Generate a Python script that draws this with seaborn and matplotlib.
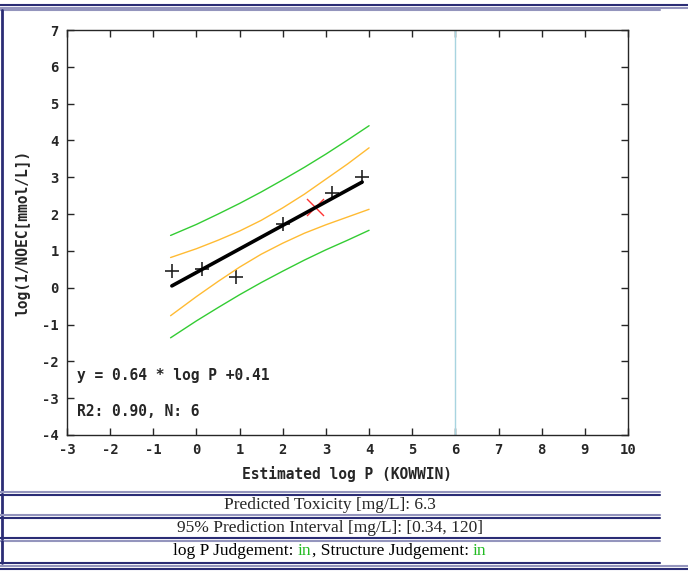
import numpy as np
import pandas as pd
import matplotlib.pyplot as plt
from matplotlib.lines import Line2D
import seaborn as sns

# datos
logp = [-0.56, 0.12, 0.91, 2.01, 3.13, 3.84]
noec = [0.45, 0.52, 0.30, 1.72, 2.56, 3.01]
pred_x = [2.75]
pred_y = [2.20]

fit_x = [-0.57, 3.84]
fit_y = [0.05, 2.87]

band_x = [-0.6, 0.0, 0.5, 1.0, 1.5, 2.0, 2.5, 3.0, 3.5, 4.0]
green_up = [1.42, 1.72, 2.00, 2.29, 2.60, 2.93, 3.27, 3.63, 4.01, 4.40]
green_lo = [-1.36, -0.90, -0.54, -0.19, 0.14, 0.45, 0.75, 1.03, 1.29, 1.56]
orange_up = [0.82, 1.06, 1.29, 1.54, 1.83, 2.17, 2.54, 2.95, 3.36, 3.80]
orange_lo = [-0.76, -0.24, 0.17, 0.56, 0.91, 1.21, 1.48, 1.71, 1.92, 2.13]

domain_limit = 6

ecuacion = "y = 0.64 * log P +0.41"
r2_texto = "R2: 0.90, N: 6"
filas = ["Predicted Toxicity [mg/L]: 6.3",
         "95% Prediction Interval [mg/L]: [0.34, 120]"]
juicio = [("log P Judgement: ", "black"), ("in", "#22bb22"),
          (", Structure Judgement: ", "black"), ("in", "#22bb22")]

sns.set_style("ticks")
plt.rcParams['font.family'] = ['DejaVu Sans Mono']
plt.rcParams['font.weight'] = 'bold'
plt.rcParams['axes.unicode_minus'] = False

W, H = 688, 571
fig = plt.figure(figsize=(W / 100, H / 100), dpi=100)
ax = fig.add_axes([67 / W, 1 - 435 / H, 561 / W, 405 / H])

df_pts = pd.DataFrame({'x': logp, 'y': noec})
df_fit = pd.DataFrame({'x': fit_x, 'y': fit_y})
df_band = pd.DataFrame({'x': band_x, 'gu': green_up, 'gl': green_lo,
                        'ou': orange_up, 'ol': orange_lo})

ax.axvline(domain_limit, color='#a8d4e0', lw=1)
for col, c in [('gu', '#33cc33'), ('gl', '#33cc33'), ('ou', '#ffbb33'), ('ol', '#ffbb33')]:
    sns.lineplot(data=df_band, x='x', y=col, color=c, lw=1, ax=ax)
sns.lineplot(data=df_fit, x='x', y='y', color='black', lw=2.6, ax=ax)
sns.scatterplot(data=df_pts, x='x', y='y', marker='+', s=110, color='#222222',
                linewidth=1.2, ax=ax)
sns.scatterplot(x=pred_x, y=pred_y, marker='x', s=150, color='#ff3333',
                linewidth=1.0, ax=ax)

ax.set_xlim(-3, 10)
ax.set_ylim(-4, 7)
ax.set_xticks(range(-3, 11))
ax.set_yticks(range(-4, 8))
ax.tick_params(direction='in', top=True, right=True, length=5, width=1,
               labelsize=10, pad=6)
for lab in ax.get_xticklabels() + ax.get_yticklabels():
    lab.set_fontweight('bold')
for s in ax.spines.values():
    s.set_linewidth(1)
ax.set_xlabel("Estimated log P (KOWWIN)", fontsize=10.5, fontweight='bold', labelpad=6)
ax.set_ylabel("log(1/NOEC[mmol/L])", fontsize=10.5, fontweight='bold', labelpad=8)
ax.text(0.018, 0.148, ecuacion, transform=ax.transAxes, fontsize=10.5,
        fontweight='bold', va='center')
ax.text(0.018, 0.057, r2_texto, transform=ax.transAxes, fontsize=10.5,
        fontweight='bold', va='center')

# marcos de la tabla
navy = '#2b2d75'
light = '#9495bd'

def hline(y, x0, x1, c, lw=1.5):
    fig.add_artist(Line2D([x0 / W, x1 / W], [1 - y / H, 1 - y / H], color=c, lw=lw))

def vline(x, y0, y1, c, lw=1.5):
    fig.add_artist(Line2D([x / W, x / W], [1 - y0 / H, 1 - y1 / H], color=c, lw=lw))

hline(5, 0, W, navy)
hline(7.5, 0, W, light)
hline(10, 0, 660, light)
vline(2, 10, 492, navy, 2)
hline(491.5, 0, 660, light)
hline(494.5, 0, 660, navy)
vline(2, 494, 516, navy, 2)
hline(515, 0, 660, light)
hline(518, 0, 660, navy)
vline(2, 518, 539, navy, 2)
hline(538, 0, 660, navy)
hline(541, 0, 660, light)
vline(2, 541, 563, navy, 2)
hline(562.5, 0, 660, navy)
hline(566, 0, W, light)
hline(569, 0, W, navy)

serif = ['Liberation Serif']
fs = 12.5
fig.text(330 / W, 1 - 505 / H, filas[0], ha='center', va='center',
         fontsize=fs, family=serif, fontweight='normal')
fig.text(330 / W, 1 - 528 / H, filas[1], ha='center', va='center',
         fontsize=fs, family=serif, fontweight='normal')

# texto con partes en verde
renderer = fig.canvas.get_renderer()
full = "".join(t for t, _ in juicio)
tmp = fig.text(0, 0, full, fontsize=fs, family=serif, fontweight='normal')
wfull = tmp.get_window_extent(renderer).width
tmp.remove()
x0 = 330 - wfull / 2
last = None
for texto, c in juicio:
    if last is None:
        last = fig.text(x0 / W, 1 - 551 / H, texto, color=c, va='center',
                        fontsize=fs, family=serif, fontweight='normal')
    else:
        last = ax.annotate(texto, xy=(1, 0.5), xycoords=last, va='center',
                           ha='left', color=c, fontsize=fs, family=serif,
                           fontweight='normal', annotation_clip=False)

fig.savefig('out.png', dpi=100)
